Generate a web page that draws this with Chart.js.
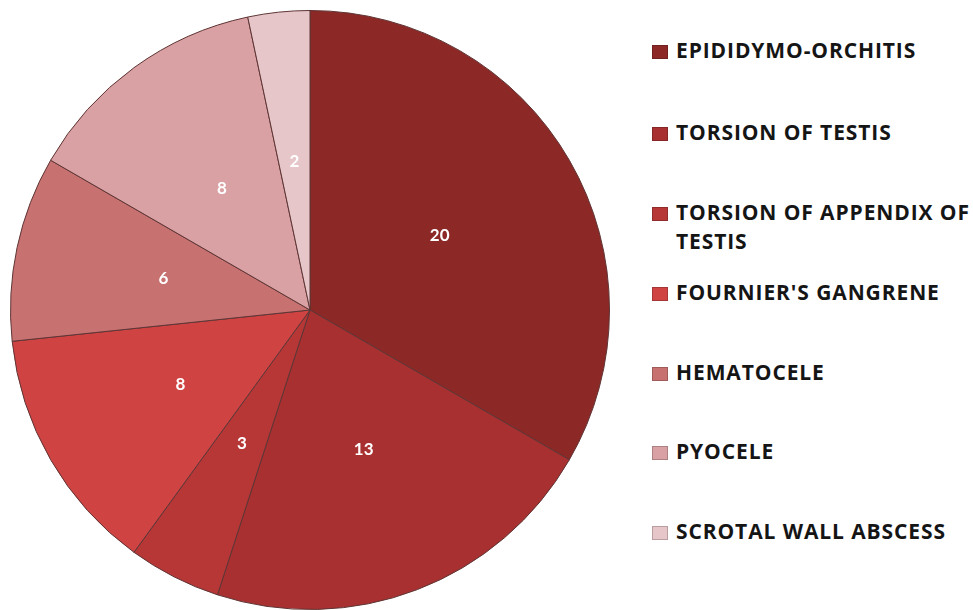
<!DOCTYPE html>
<html>
<head>
<meta charset="utf-8">
<script src="https://cdn.jsdelivr.net/npm/chart.js@4.4.1/dist/chart.umd.min.js"></script>
<style>
  html, body { margin: 0; padding: 0; background: #fff; }
  #wrap { position: relative; width: 973px; height: 610px; overflow: hidden; }
  #pieBox { position: absolute; left: 0; top: 0; width: 620px; height: 620px; }
  #legend { position: absolute; left: 652px; top: 0; font-family: "Open Sans", Lato, sans-serif; font-weight: bold; font-size: 21px; letter-spacing: 0.9px; color: #151515; }
  .item { position: absolute; left: 0; white-space: nowrap; display: flex; align-items: flex-start; }
  .sw { width: 16px; height: 14px; margin-top: 8px; margin-right: 8px; flex: none; box-shadow: inset 0 0 0 1px rgba(0,0,0,0.2); }
  .txt { line-height: 29px; margin-top: -1px; }
</style>
</head>
<body>
<div id="wrap">
  <div id="pieBox"><canvas id="pie"></canvas></div>
  <div id="legend"></div>
</div>
<script>
// scrotal emergencies - case counts
const categories = [
  'EPIDIDYMO-ORCHITIS',
  'TORSION OF TESTIS',
  ['TORSION OF APPENDIX OF', 'TESTIS'],
  "FOURNIER'S GANGRENE",
  'HEMATOCELE',
  'PYOCELE',
  'SCROTAL WALL ABSCESS'
];
const caseCounts = [20, 13, 3, 8, 6, 8, 2];
const sliceColors = ['#8c2826', '#a83030', '#b73636', '#d04343', '#c77171', '#d9a1a3', '#e6c6c9'];
const legendTops = [37, 119, 199, 279, 359, 438, 518];

// white value labels at half radius, like the original
const valueLabels = {
  id: 'valueLabels',
  afterDatasetsDraw(chart) {
    const { ctx } = chart;
    const meta = chart.getDatasetMeta(0);
    ctx.save();
    ctx.fillStyle = '#fff';
    ctx.font = 'bold 17px Lato, sans-serif';
    ctx.textAlign = 'center';
    ctx.textBaseline = 'middle';
    meta.data.forEach((arc, i) => {
      const p = arc.tooltipPosition();
      ctx.fillText(String(caseCounts[i]), p.x, p.y);
    });
    ctx.restore();
  }
};

new Chart(document.getElementById('pie'), {
  type: 'pie',
  data: {
    labels: categories.map(c => Array.isArray(c) ? c.join(' ') : c),
    datasets: [{
      data: caseCounts,
      backgroundColor: sliceColors,
      borderColor: '#5e3434',
      borderWidth: 1
    }]
  },
  options: {
    responsive: true,
    maintainAspectRatio: false,
    animation: false,
    layout: { padding: 10 },
    plugins: { legend: { display: false }, tooltip: { enabled: false } }
  },
  plugins: [valueLabels]
});

const legendEl = document.getElementById('legend');
categories.forEach((c, i) => {
  const row = document.createElement('div');
  row.className = 'item';
  row.style.top = legendTops[i] + 'px';
  const sw = document.createElement('span');
  sw.className = 'sw';
  sw.style.background = sliceColors[i];
  const t = document.createElement('span');
  t.className = 'txt';
  t.innerHTML = (Array.isArray(c) ? c : [c]).join('<br>');
  row.appendChild(sw);
  row.appendChild(t);
  legendEl.appendChild(row);
});
</script>
</body>
</html>
